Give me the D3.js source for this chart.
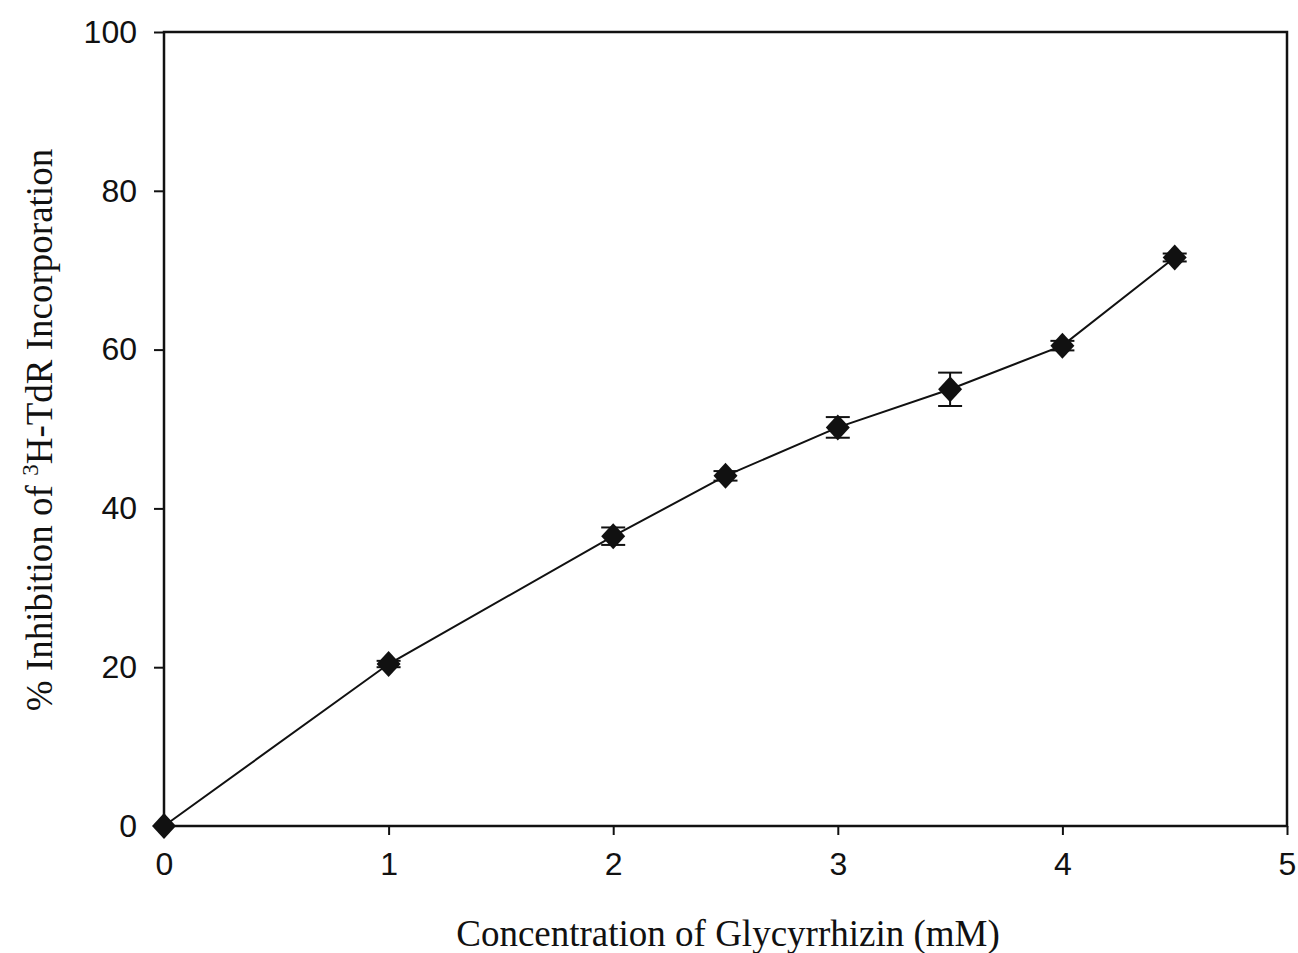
<!DOCTYPE html>
<html>
<head>
<meta charset="utf-8">
<script src="https://cdn.jsdelivr.net/npm/d3@7"></script>
<style>
  body { margin: 0; background: #fff; }
  svg { display: block; }
  .tick text { font-family: Arial, "Liberation Sans", sans-serif; font-size: 32px; fill: #111; }
  .title { font-family: "Times New Roman", "Liberation Serif", serif; fill: #111; }
</style>
</head>
<body>
<svg width="1298" height="953"></svg>
<script>
// concentration (mM) vs % inhibition, with error
const conc = [0, 1, 2, 2.5, 3, 3.5, 4, 4.5];
const inhibition = [0, 20.4, 36.5, 44.1, 50.2, 55.0, 60.5, 71.6];
const errors = [0, 0.4, 1.1, 0.6, 1.3, 2.1, 0.6, 0.5];
const xTicks = [0, 1, 2, 3, 4, 5];
const yTicks = [0, 20, 40, 60, 80, 100];

const svg = d3.select('svg');
const plotLeft = 164, plotRight = 1287, plotTop = 32, plotBottom = 826;

const x = d3.scaleLinear().domain([0, 5]).range([plotLeft, plotRight]);
const y = d3.scaleLinear().domain([0, 100]).range([plotBottom, plotTop]);

const pts = conc.map((c, i) => ({ x: c, y: inhibition[i], e: errors[i] }));

// frame
svg.append('rect')
    .attr('x', plotLeft).attr('y', plotTop)
    .attr('width', plotRight - plotLeft).attr('height', plotBottom - plotTop)
    .attr('fill', 'none').attr('stroke', '#111').attr('stroke-width', 2.5);

const xAxis = svg.append('g')
    .attr('transform', `translate(0,${plotBottom})`)
    .call(d3.axisBottom(x).tickValues(xTicks).tickSize(9).tickPadding(17).tickFormat(d3.format('d')));
xAxis.select('.domain').remove();
xAxis.selectAll('.tick line').attr('stroke', '#111').attr('stroke-width', 2);

const yAxis = svg.append('g')
    .attr('transform', `translate(${plotLeft},0)`)
    .call(d3.axisLeft(y).tickValues(yTicks).tickSize(10).tickPadding(17).tickFormat(d3.format('d')));
yAxis.select('.domain').remove();
yAxis.selectAll('.tick line').attr('stroke', '#111').attr('stroke-width', 2);

// line
svg.append('path')
    .datum(pts)
    .attr('fill', 'none')
    .attr('stroke', '#111')
    .attr('stroke-width', 2)
    .attr('d', d3.line().x(d => x(d.x)).y(d => y(d.y)));

// error bars
const eb = svg.append('g').attr('stroke', '#111').attr('stroke-width', 2);
pts.filter(d => d.e > 0).forEach(d => {
    const cx = x(d.x);
    eb.append('line').attr('x1', cx).attr('x2', cx).attr('y1', y(d.y + d.e)).attr('y2', y(d.y - d.e));
    [d.y + d.e, d.y - d.e].forEach(v => {
        eb.append('line').attr('x1', cx - 12).attr('x2', cx + 12).attr('y1', y(v)).attr('y2', y(v));
    });
});

// diamond markers
svg.append('g').selectAll('path')
    .data(pts)
    .join('path')
    .attr('transform', d => `translate(${x(d.x)},${y(d.y)})`)
    .attr('d', 'M0,-13L12,0L0,13L-12,0Z')
    .attr('fill', '#111');

// titles
svg.append('text')
    .attr('class', 'title')
    .attr('x', 728).attr('y', 946)
    .attr('text-anchor', 'middle')
    .attr('font-size', 37)
    .text('Concentration of Glycyrrhizin (mM)');

const yt = svg.append('text')
    .attr('class', 'title')
    .attr('transform', 'translate(52,430) rotate(-90)')
    .attr('text-anchor', 'middle')
    .attr('font-size', 37);
yt.append('tspan').text('% Inhibition of ');
yt.append('tspan').attr('dy', -14).attr('font-size', 23).text('3');
yt.append('tspan').attr('dy', 14).text('H-TdR Incorporation');
</script>
</body>
</html>
